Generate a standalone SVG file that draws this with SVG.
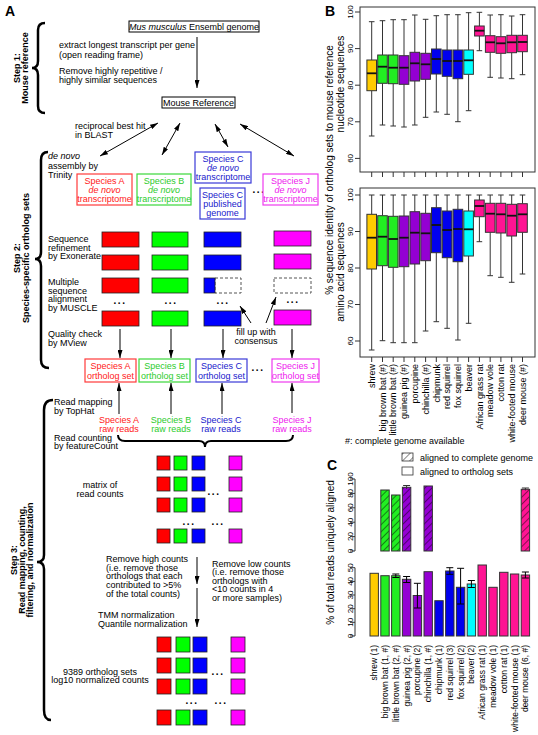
<svg xmlns="http://www.w3.org/2000/svg" width="538" height="735" viewBox="0 0 538 735">
<style>
text{font-family:"Liberation Sans",Arial,sans-serif;font-size:9px;fill:#000}
.c{text-anchor:middle}
.e{text-anchor:end}
.b{font-weight:bold}
.pl{font-size:14px;font-weight:bold}
.i{font-style:italic}
.ax{font-size:10px}
.tk{font-size:8px;text-anchor:middle}
.cl{font-size:8.5px;text-anchor:end}
.bx{fill:#fff;stroke:#000;stroke-width:1}
.sr{fill:#fff;stroke:#ff3a3a;stroke-width:1.2}
.sg{fill:#fff;stroke:#3ad83a;stroke-width:1.2}
.sb{fill:#fff;stroke:#3a3ad8;stroke-width:1.2}
.sm{fill:#fff;stroke:#ee3aee;stroke-width:1.2}
.tr{fill:#ff2020}.tg{fill:#2ccc2c}.tb{fill:#2020cc}.tm{fill:#ee20ee}
.R{fill:#ff0000;stroke:#222;stroke-width:0.8}
.G{fill:#00ff00;stroke:#222;stroke-width:0.8}
.B{fill:#0000ff;stroke:#222;stroke-width:0.8}
.M{fill:#ff00ff;stroke:#222;stroke-width:0.8}
.D{fill:#fff;stroke:#555;stroke-width:1;stroke-dasharray:3,2}
.ln{stroke:#000;stroke-width:1;fill:none}
.br{stroke:#000;stroke-width:2.5;fill:none}
.dots{font-weight:bold;font-size:10px;letter-spacing:1.5px;text-anchor:middle}
.fr{fill:none;stroke:#333;stroke-width:1}
.wh{stroke:#333;stroke-width:1;fill:none}
.med{stroke:#111;stroke-width:1.8}
.bo{stroke:#333;stroke-width:1}
.cy{fill:#ffcc00}.cg{fill:#22ee22}.cp{fill:#9400d3}.cb{fill:#0000ee}.cc{fill:#00ffff}.ck{fill:#ff1493}
.h{fill:url(#hatch)}
</style>
<defs>
<marker id="ah" viewBox="0 0 8 5" refX="8" refY="2.5" markerWidth="8" markerHeight="5" markerUnits="userSpaceOnUse" orient="auto-start-reverse"><path d="M0,0L8,2.5L0,5z" fill="#000"/></marker>
<pattern id="hatch" width="5" height="5" patternUnits="userSpaceOnUse" patternTransform="rotate(45)"><line x1="0" y1="0" x2="0" y2="5" stroke="#000" stroke-width="0.9"/></pattern>
</defs>
<rect width="538" height="735" fill="#fff"/>

<!-- Panel A -->
<text class="pl" x="5" y="15.5">A</text>

<g id="step-labels">
<text class="c b" transform="translate(19.5,68) rotate(-90)">Step 1:</text>
<text class="c b" transform="translate(28,68) rotate(-90)">Mouse reference</text>
<text class="c b" transform="translate(20,258) rotate(-90)">Step 2:</text>
<text class="c b" transform="translate(28.5,258) rotate(-90)">Species-specific ortholog sets</text>
<text class="c b" transform="translate(16.5,560) rotate(-90)">Step 3:</text>
<text class="c b" transform="translate(24.5,560) rotate(-90)">Read mapping, counting,</text>
<text class="c b" transform="translate(32.5,560) rotate(-90)">filtering, and normalization</text>
</g>

<g id="braces">
<path class="br" d="M45,23 Q38,23 38,30 L38,61 Q38,68 32,68 Q38,68 38,75 L38,106 Q38,113 45,113"/>
<path class="br" d="M48,152 Q41,152 41,160 L41,252 Q41,259 35,259 Q41,259 41,266 L41,360 Q41,368 49,368"/>
<path class="br" d="M53,400 Q44,400 44,410 L44,555 Q44,562 37,562 Q44,562 44,569 L44,710 Q44,720 51,720"/>
</g>

<g id="step1-notes">
<text x="59" y="48">extract longest transcript per gene</text>
<text x="59" y="57.5">(open reading frame)</text>
<text x="59" y="74">Remove highly repetitive /</text>
<text x="59" y="83">highly similar sequences</text>
<text x="75" y="128.5">reciprocal best hit</text>
<text x="75" y="137.5">in BLAST</text>
</g>

<g id="node-ensembl">
<rect class="bx" x="129" y="21" width="130" height="11"/>
<text class="c" x="194" y="29.8"><tspan class="i">Mus musculus</tspan> Ensembl genome</text>
</g>
<g id="node-mouse-ref">
<rect class="bx" x="162" y="97" width="73" height="11"/>
<text class="c" x="198.5" y="105.8">Mouse Reference</text>
</g>

<g id="step2-notes">
<text class="i" x="48" y="159">de novo</text>
<text x="48" y="168.5">assembly by</text>
<text x="48" y="177.5">Trinity</text>
<text x="48" y="241.5">Sequence</text>
<text x="48" y="250.5">refinement</text>
<text x="48" y="259">by Exonerate</text>
<text x="48" y="284.5">Multiple</text>
<text x="48" y="293.5">sequence</text>
<text x="48" y="302">alignment</text>
<text x="48" y="311">by MUSCLE</text>
<text x="48" y="337">Quality check</text>
<text x="48" y="345.5">by MView</text>
<text class="c" x="256" y="335">fill up with</text>
<text class="c" x="256" y="344">consensus</text>
</g>

<g id="node-A-denovo">
<rect class="sr" x="77" y="174" width="55" height="31"/>
<text class="c tr" x="104.5" y="184">Species A</text>
<text class="c tr i" x="104.5" y="193">de novo</text>
<text class="c tr" x="104.5" y="202.3">transcriptome</text>
</g>
<g id="node-B-denovo">
<rect class="sg" x="137" y="174" width="54" height="31"/>
<text class="c tg" x="164" y="184">Species B</text>
<text class="c tg i" x="164" y="193">de novo</text>
<text class="c tg" x="164" y="202.3">transcriptome</text>
</g>
<g id="node-C-denovo">
<rect class="sb" x="195" y="152" width="56" height="31"/>
<text class="c tb" x="223" y="162">Species C</text>
<text class="c tb i" x="223" y="171">de novo</text>
<text class="c tb" x="223" y="180.3">transcriptome</text>
</g>
<g id="node-C-genome">
<rect class="sb" x="200" y="188" width="45" height="31"/>
<text class="c tb" x="222.5" y="197.5">Species C</text>
<text class="c tb" x="222.5" y="206.5">published</text>
<text class="c tb" x="222.5" y="215.5">genome</text>
</g>
<text class="dots" x="259" y="193">...</text>
<g id="node-J-denovo">
<rect class="sm" x="263" y="174" width="55" height="31"/>
<text class="c tm" x="290.5" y="184">Species J</text>
<text class="c tm i" x="290.5" y="193">de novo</text>
<text class="c tm" x="290.5" y="202.3">transcriptome</text>
</g>

<g id="node-A-seqs">
<rect class="R" x="102" y="232" width="37" height="15"/>
<rect class="R" x="102" y="255" width="37" height="15"/>
<rect class="R" x="102" y="278" width="37" height="15"/>
<text class="dots" x="120" y="304">...</text>
<rect class="R" x="102" y="311" width="37" height="15"/>
</g>
<g id="node-B-seqs">
<rect class="G" x="152" y="232" width="36" height="15"/>
<rect class="G" x="152" y="255" width="36" height="15"/>
<rect class="G" x="152" y="278" width="36" height="15"/>
<text class="dots" x="171" y="304">...</text>
<rect class="G" x="152" y="311" width="36" height="15"/>
</g>
<g id="node-C-seqs">
<rect class="B" x="204" y="232" width="37" height="15"/>
<rect class="B" x="204" y="255" width="37" height="15"/>
<rect class="D" x="215" y="278" width="26" height="15"/>
<rect class="B" x="204" y="278" width="11" height="15"/>
<text class="dots" x="223" y="304">...</text>
<rect class="B" x="204" y="311" width="37" height="15"/>
</g>
<g id="node-J-seqs">
<rect class="M" x="274" y="231" width="37" height="15"/>
<rect class="M" x="274" y="254" width="37" height="15"/>
<rect class="D" x="274" y="278" width="37" height="15"/>
<text class="dots" x="293" y="303">...</text>
<rect class="M" x="274" y="310" width="37" height="15"/>
</g>

<g id="node-A-orth">
<rect class="sr" x="85" y="359" width="51" height="23"/>
<text class="c tr" x="110.5" y="369">Species A</text>
<text class="c tr" x="110.5" y="378.5">ortholog set</text>
</g>
<g id="node-B-orth">
<rect class="sg" x="139" y="359" width="51" height="23"/>
<text class="c tg" x="164.5" y="369">Species B</text>
<text class="c tg" x="164.5" y="378.5">ortholog set</text>
</g>
<g id="node-C-orth">
<rect class="sb" x="196" y="359" width="51" height="23"/>
<text class="c tb" x="221.5" y="369">Species C</text>
<text class="c tb" x="221.5" y="378.5">ortholog set</text>
</g>
<text class="dots" x="258" y="371">...</text>
<g id="node-J-orth">
<rect class="sm" x="272" y="359" width="47" height="23"/>
<text class="c tm" x="295.5" y="369">Species J</text>
<text class="c tm" x="295.5" y="378.5">ortholog set</text>
</g>

<g id="step3-notes">
<text x="54" y="405">Read mapping</text>
<text x="54" y="413.5">by TopHat</text>
<text x="54" y="440.5">Read counting</text>
<text x="54" y="449">by featureCount</text>
<text class="c" x="100" y="487.5">matrix of</text>
<text class="c" x="100" y="497">read counts</text>
<text x="106" y="562">Remove high counts</text>
<text x="106" y="570.7">(i.e. remove those</text>
<text x="106" y="579.4">orthologs that each</text>
<text x="106" y="588.1">contributed to &gt;5%</text>
<text x="106" y="596.8">of the total counts)</text>
<text x="212" y="566.5">Remove low counts</text>
<text x="212" y="575">(i.e. remove those</text>
<text x="212" y="583.5">orthologs with</text>
<text x="212" y="592">&lt;10 counts in 4</text>
<text x="212" y="600.5">or more samples)</text>
<text x="98" y="617.5">TMM normalization</text>
<text x="98" y="626.5">Quantile normalization</text>
<text class="c" x="100" y="674.5">9389 ortholog sets</text>
<text class="c" x="100" y="683">log10 normalized counts</text>
</g>

<g id="node-raw-reads">
<text class="c tr" x="119" y="423">Species A</text>
<text class="c tr" x="119" y="432">raw reads</text>
<text class="c tg" x="171" y="423">Species B</text>
<text class="c tg" x="171" y="432">raw reads</text>
<text class="c tb" x="221" y="423">Species C</text>
<text class="c tb" x="221" y="432">raw reads</text>
<text class="c tm" x="292" y="423">Species J</text>
<text class="c tm" x="292" y="432">raw reads</text>
</g>

<g id="node-count-matrix">
<rect class="R" x="157" y="456" width="13" height="14"/><rect class="G" x="174" y="456" width="13" height="14"/><rect class="B" x="192" y="456" width="13" height="14"/><rect class="M" x="229" y="456" width="13" height="14"/>
<rect class="R" x="157" y="477" width="13" height="14"/><rect class="G" x="174" y="477" width="13" height="14"/><rect class="B" x="192" y="477" width="13" height="14"/><rect class="M" x="229" y="477" width="13" height="14"/>
<text class="dots" x="214" y="494.5">...</text>
<rect class="R" x="157" y="498" width="13" height="14"/><rect class="G" x="174" y="498" width="13" height="14"/><rect class="B" x="192" y="498" width="13" height="14"/><rect class="M" x="229" y="498" width="13" height="14"/>
<text class="dots" x="189" y="524.5">...</text><text class="dots" x="218" y="524.5">...</text>
<rect class="R" x="157" y="529" width="13" height="14"/><rect class="G" x="174" y="529" width="13" height="14"/><rect class="B" x="192" y="529" width="13" height="14"/><rect class="M" x="229" y="529" width="13" height="14"/>
</g>

<g id="node-norm-matrix">
<rect class="R" x="157" y="637" width="14" height="15"/><rect class="G" x="176" y="637" width="14" height="15"/><rect class="B" x="193" y="637" width="14" height="15"/><rect class="M" x="231" y="637" width="14" height="15"/>
<rect class="R" x="157" y="658" width="14" height="15"/><rect class="G" x="176" y="658" width="14" height="15"/><rect class="B" x="193" y="658" width="14" height="15"/><rect class="M" x="231" y="658" width="14" height="15"/>
<text class="dots" x="218" y="675">...</text>
<rect class="R" x="157" y="679" width="14" height="15"/><rect class="G" x="176" y="679" width="14" height="15"/><rect class="B" x="193" y="679" width="14" height="15"/><rect class="M" x="231" y="679" width="14" height="15"/>
<text class="dots" x="192" y="704">...</text><text class="dots" x="221" y="704">...</text>
<rect class="R" x="157" y="710" width="14" height="15"/><rect class="G" x="176" y="710" width="14" height="15"/><rect class="B" x="193" y="710" width="14" height="15"/><rect class="M" x="231" y="710" width="14" height="15"/>
</g>

<g id="connectors" class="ln">
<path class="ln" d="M197,37V88" marker-end="url(#ah)"/>
<path class="ln" d="M158,123L100,156" marker-start="url(#ah)" marker-end="url(#ah)"/>
<path class="ln" d="M180,123L162,155" marker-start="url(#ah)" marker-end="url(#ah)"/>
<path class="ln" d="M215,124L228,147" marker-start="url(#ah)" marker-end="url(#ah)"/>
<path class="ln" d="M240,124L294,156" marker-start="url(#ah)" marker-end="url(#ah)"/>
<path class="ln" d="M120,329V358" marker-end="url(#ah)"/>
<path class="ln" d="M171,329V358" marker-end="url(#ah)"/>
<path class="ln" d="M223,329V358" marker-end="url(#ah)"/>
<path class="ln" d="M292,329V358" marker-end="url(#ah)"/>
<path class="ln" d="M251,323L240,306" marker-end="url(#ah)"/>
<path class="ln" d="M266,323L276,297" marker-end="url(#ah)"/>
<path class="ln" d="M119,414V383" marker-end="url(#ah)"/>
<path class="ln" d="M171,414V383" marker-end="url(#ah)"/>
<path class="ln" d="M222,414V383" marker-end="url(#ah)"/>
<path class="ln" d="M292,413V383" marker-end="url(#ah)"/>
<path d="M118,435 Q118,441 125,441 L199,441 Q205,441 205,447 Q205,441 211,441 L286,441 Q293,441 293,435" stroke="#000" stroke-width="2" fill="none"/>
<path class="ln" d="M197,557V584" marker-end="url(#ah)"/>
<path class="ln" d="M197,588V627" marker-end="url(#ah)"/>
</g>

<!-- Panel B -->
<text class="pl" x="325" y="15.5">B</text>
<text class="ax c" transform="translate(332.5,170) rotate(-90)">% sequence identity of ortholog sets to mouse reference</text>
<text class="ax c" transform="translate(344,84) rotate(-90)">nucleotide sequences</text>
<text class="ax c" transform="translate(344,272) rotate(-90)">amino acid sequences</text>

<g id="plotB-top">
<rect class="fr" x="360" y="7" width="175" height="165"/>
<path class="wh" d="M355,12H360M355,48.6H360M355,85.2H360M355,121.8H360M355,158.4H360"/>
<text class="tk" transform="translate(353,12) rotate(-90)">100</text>
<text class="tk" transform="translate(353,48.6) rotate(-90)">90</text>
<text class="tk" transform="translate(353,85.2) rotate(-90)">80</text>
<text class="tk" transform="translate(353,121.8) rotate(-90)">70</text>
<text class="tk" transform="translate(353,158.4) rotate(-90)">60</text>
<path class="wh" d="M371.7,172v5M382.5,172v5M393.2,172v5M404,172v5M414.8,172v5M425.6,172v5M436.3,172v5M447.1,172v5M457.9,172v5M468.6,172v5M479.4,172v5M490.2,172v5M500.9,172v5M511.7,172v5M522.5,172v5"/>
<g><path class="wh" d="M371.7,21.7V60M371.7,90.7V136M368.9,21.7h5.6M368.9,136h5.6"/><rect class="cy bo" x="366.9" y="60" width="9.6" height="30.7"/><path class="med" d="M366.9,73.3h9.6"/></g>
<g><path class="wh" d="M382.5,20.7V55M382.5,83.3V125M379.7,20.7h5.6M379.7,125h5.6"/><rect class="cg bo" x="377.7" y="55" width="9.6" height="28.3"/><path class="med" d="M377.7,66.7h9.6"/></g>
<g><path class="wh" d="M393.2,19.7V55M393.2,83.7V126M390.4,19.7h5.6M390.4,126h5.6"/><rect class="cg bo" x="388.4" y="55" width="9.6" height="28.7"/><path class="med" d="M388.4,67.7h9.6"/></g>
<g><path class="wh" d="M404,19.7V55.7M404,84.3V127M401.2,19.7h5.6M401.2,127h5.6"/><rect class="cp bo" x="399.2" y="55.7" width="9.6" height="28.6"/><path class="med" d="M399.2,67.7h9.6"/></g>
<g><path class="wh" d="M414.8,15V52.3M414.8,81V125M412,15h5.6M412,125h5.6"/><rect class="cp bo" x="410" y="52.3" width="9.6" height="28.7"/><path class="med" d="M410,63.3h9.6"/></g>
<g><path class="wh" d="M425.6,19.3V53.3M425.6,79.3V117.3M422.8,19.3h5.6M422.8,117.3h5.6"/><rect class="cp bo" x="420.8" y="53.3" width="9.6" height="26"/><path class="med" d="M420.8,64.3h9.6"/></g>
<g><path class="wh" d="M436.3,15.7V49M436.3,74V112M433.5,15.7h5.6M433.5,112h5.6"/><rect class="cb bo" x="431.5" y="49" width="9.6" height="25"/><path class="med" d="M431.5,59h9.6"/></g>
<g><path class="wh" d="M447.1,14.7V50M447.1,76.3V114.3M444.3,14.7h5.6M444.3,114.3h5.6"/><rect class="cb bo" x="442.3" y="50" width="9.6" height="26.3"/><path class="med" d="M442.3,61h9.6"/></g>
<g><path class="wh" d="M457.9,14.7V50M457.9,78.7V121.7M455.1,14.7h5.6M455.1,121.7h5.6"/><rect class="cb bo" x="453.1" y="50" width="9.6" height="28.7"/><path class="med" d="M453.1,61h9.6"/></g>
<g><path class="wh" d="M468.6,12.7V50M468.6,74.3V110.7M465.8,12.7h5.6M465.8,110.7h5.6"/><rect class="cc bo" x="463.8" y="50" width="9.6" height="24.3"/><path class="med" d="M463.8,60.3h9.6"/></g>
<g><path class="wh" d="M479.4,12.3V26M479.4,36V50.7M476.6,12.3h5.6M476.6,50.7h5.6"/><rect class="ck bo" x="474.6" y="26" width="9.6" height="10"/><path class="med" d="M474.6,30.7h9.6"/></g>
<g><path class="wh" d="M490.2,15V35.7M490.2,52.3V77.3M487.4,15h5.6M487.4,77.3h5.6"/><rect class="ck bo" x="485.4" y="35.7" width="9.6" height="16.6"/><path class="med" d="M485.4,42.3h9.6"/></g>
<g><path class="wh" d="M500.9,14.7V36.7M500.9,53.3V78M498.1,14.7h5.6M498.1,78h5.6"/><rect class="ck bo" x="496.1" y="36.7" width="9.6" height="16.6"/><path class="med" d="M496.1,43.3h9.6"/></g>
<g><path class="wh" d="M511.7,16V35.3M511.7,52.7V78.7M508.9,16h5.6M508.9,78.7h5.6"/><rect class="ck bo" x="506.9" y="35.3" width="9.6" height="17.4"/><path class="med" d="M506.9,42.3h9.6"/></g>
<g><path class="wh" d="M522.5,14.7V35.3M522.5,51.7V74.7M519.7,14.7h5.6M519.7,74.7h5.6"/><rect class="ck bo" x="517.7" y="35.3" width="9.6" height="16.4"/><path class="med" d="M517.7,42h9.6"/></g>
</g>

<g id="plotB-bottom">
<rect class="fr" x="360" y="188" width="175" height="169"/>
<path class="wh" d="M355,195H360M355,231.5H360M355,268H360M355,304.5H360M355,341H360"/>
<text class="tk" transform="translate(353,195) rotate(-90)">100</text>
<text class="tk" transform="translate(353,231.5) rotate(-90)">90</text>
<text class="tk" transform="translate(353,268) rotate(-90)">80</text>
<text class="tk" transform="translate(353,304.5) rotate(-90)">70</text>
<text class="tk" transform="translate(353,341) rotate(-90)">60</text>
<path class="wh" d="M371.7,357v5M382.5,357v5M393.2,357v5M404,357v5M414.8,357v5M425.6,357v5M436.3,357v5M447.1,357v5M457.9,357v5M468.6,357v5M479.4,357v5M490.2,357v5M500.9,357v5M511.7,357v5M522.5,357v5"/>
<g><path class="wh" d="M371.7,195V214.3M371.7,269V350M368.9,195h5.6M368.9,350h5.6"/><rect class="cy bo" x="366.9" y="214.3" width="9.6" height="54.7"/><path class="med" d="M366.9,237.7h9.6"/></g>
<g><path class="wh" d="M382.5,195V215.7M382.5,265.7V340.7M379.7,195h5.6M379.7,340.7h5.6"/><rect class="cg bo" x="377.7" y="215.7" width="9.6" height="50"/><path class="med" d="M377.7,236.7h9.6"/></g>
<g><path class="wh" d="M393.2,195V216.3M393.2,267.3V342.7M390.4,195h5.6M390.4,342.7h5.6"/><rect class="cg bo" x="388.4" y="216.3" width="9.6" height="51"/><path class="med" d="M388.4,239h9.6"/></g>
<g><path class="wh" d="M404,195V216M404,266.7V342.7M401.2,195h5.6M401.2,342.7h5.6"/><rect class="cp bo" x="399.2" y="216" width="9.6" height="50.7"/><path class="med" d="M399.2,237.7h9.6"/></g>
<g><path class="wh" d="M414.8,195V211.7M414.8,264V342.7M412,195h5.6M412,342.7h5.6"/><rect class="cp bo" x="410" y="211.7" width="9.6" height="52.3"/><path class="med" d="M410,232.7h9.6"/></g>
<g><path class="wh" d="M425.6,195V213.3M425.6,260.7V331M422.8,195h5.6M422.8,331h5.6"/><rect class="cp bo" x="420.8" y="213.3" width="9.6" height="47.4"/><path class="med" d="M420.8,233.3h9.6"/></g>
<g><path class="wh" d="M436.3,195V207.7M436.3,252.7V321.7M433.5,195h5.6M433.5,321.7h5.6"/><rect class="cb bo" x="431.5" y="207.7" width="9.6" height="45"/><path class="med" d="M431.5,225h9.6"/></g>
<g><path class="wh" d="M447.1,195V211M447.1,257.7V328.3M444.3,195h5.6M444.3,328.3h5.6"/><rect class="cb bo" x="442.3" y="211" width="9.6" height="46.7"/><path class="med" d="M442.3,230h9.6"/></g>
<g><path class="wh" d="M457.9,195V209.3M457.9,261.7V340M455.1,195h5.6M455.1,340h5.6"/><rect class="cb bo" x="453.1" y="209.3" width="9.6" height="52.4"/><path class="med" d="M453.1,229h9.6"/></g>
<g><path class="wh" d="M468.6,195V211M468.6,256V323.3M465.8,195h5.6M465.8,323.3h5.6"/><rect class="cc bo" x="463.8" y="211" width="9.6" height="45"/><path class="med" d="M463.8,229.3h9.6"/></g>
<g><path class="wh" d="M479.4,195V200M479.4,216.7V241.7M476.6,195h5.6M476.6,241.7h5.6"/><rect class="ck bo" x="474.6" y="200" width="9.6" height="16.7"/><path class="med" d="M474.6,206h9.6"/></g>
<g><path class="wh" d="M490.2,195V203.3M490.2,232.3V275.7M487.4,195h5.6M487.4,275.7h5.6"/><rect class="ck bo" x="485.4" y="203.3" width="9.6" height="29"/><path class="med" d="M485.4,213.7h9.6"/></g>
<g><path class="wh" d="M500.9,195V203.3M500.9,233V277.3M498.1,195h5.6M498.1,277.3h5.6"/><rect class="ck bo" x="496.1" y="203.3" width="9.6" height="29.7"/><path class="med" d="M496.1,214.3h9.6"/></g>
<g><path class="wh" d="M511.7,195V204.3M511.7,236V282.3M508.9,195h5.6M508.9,282.3h5.6"/><rect class="ck bo" x="506.9" y="204.3" width="9.6" height="31.7"/><path class="med" d="M506.9,215.7h9.6"/></g>
<g><path class="wh" d="M522.5,195V203.7M522.5,232.3V274M519.7,195h5.6M519.7,274h5.6"/><rect class="ck bo" x="517.7" y="203.7" width="9.6" height="28.6"/><path class="med" d="M517.7,214.3h9.6"/></g>
</g>

<g id="plotB-labels">
<text class="e" transform="translate(374.9,364) rotate(-90)">shrew</text>
<text class="e" transform="translate(385.7,364) rotate(-90)">big brown bat (#)</text>
<text class="e" transform="translate(396.4,364) rotate(-90)">little brown bat (#)</text>
<text class="e" transform="translate(407.2,364) rotate(-90)">guinea pig (#)</text>
<text class="e" transform="translate(418,364) rotate(-90)">porcupine</text>
<text class="e" transform="translate(428.8,364) rotate(-90)">chinchilla (#)</text>
<text class="e" transform="translate(439.5,364) rotate(-90)">chipmunk</text>
<text class="e" transform="translate(450.3,364) rotate(-90)">red squirrel</text>
<text class="e" transform="translate(461.1,364) rotate(-90)">fox squirrel</text>
<text class="e" transform="translate(471.8,364) rotate(-90)">beaver</text>
<text class="e" transform="translate(482.6,364) rotate(-90)">African grass rat</text>
<text class="e" transform="translate(493.4,364) rotate(-90)">meadow vole</text>
<text class="e" transform="translate(504.1,364) rotate(-90)">cotton rat</text>
<text class="e" transform="translate(514.9,364) rotate(-90)">white-footed mouse</text>
<text class="e" transform="translate(525.7,364) rotate(-90)">deer mouse (#)</text>
<text x="345" y="444">#: complete genome available</text>
</g>

<!-- Panel C -->
<text class="pl" x="327" y="470">C</text>
<g id="legendC">
<rect x="402" y="453" width="11" height="8" fill="#fff"/>
<rect class="h" x="402" y="453" width="11" height="8"/>
<rect x="402" y="453" width="11" height="8" fill="none" stroke="#333" stroke-width="0.8"/>
<text x="420" y="461">aligned to complete genome</text>
<rect x="402" y="467" width="11" height="8" fill="#fff" stroke="#333" stroke-width="0.8"/>
<text x="420" y="474.5">aligned to ortholog sets</text>
</g>
<text class="ax c" transform="translate(334,552.5) rotate(-90)">% of total reads uniquely aligned</text>

<g id="plotC-top">
<path class="wh" d="M355,551V479M350,551H355M350,536.6H355M350,522.2H355M350,507.8H355M350,493.4H355M350,479H355"/>
<text class="tk" transform="translate(352.5,551) rotate(-90)">0</text>
<text class="tk" transform="translate(352.5,536.6) rotate(-90)">20</text>
<text class="tk" transform="translate(352.5,522.2) rotate(-90)">40</text>
<text class="tk" transform="translate(352.5,507.8) rotate(-90)">60</text>
<text class="tk" transform="translate(352.5,493.4) rotate(-90)">80</text>
<text class="tk" transform="translate(352.5,479) rotate(-90)">100</text>
<g><rect class="cg" x="380.8" y="490" width="8.4" height="61"/><rect class="h bo" x="380.8" y="490" width="8.4" height="61"/></g>
<g><rect class="cg" x="391.6" y="495" width="8.4" height="56"/><rect class="h bo" x="391.6" y="495" width="8.4" height="56"/></g>
<g><rect class="cp" x="402.4" y="487.3" width="8.4" height="63.7"/><rect class="h bo" x="402.4" y="487.3" width="8.4" height="63.7"/><path class="wh" d="M406.6,485.5V489M403.1,485.5h7"/></g>
<g><rect class="cp" x="424" y="486" width="8.4" height="65"/><rect class="h bo" x="424" y="486" width="8.4" height="65"/></g>
<g><rect class="ck" x="521.2" y="489.3" width="8.4" height="61.7"/><rect class="h bo" x="521.2" y="489.3" width="8.4" height="61.7"/><path class="wh" d="M525.4,488V490.5M521.9,488h7"/></g>
</g>

<g id="plotC-bottom">
<path class="wh" d="M355,636V567.7M350,636H355M350,622.3H355M350,608.7H355M350,595H355M350,581.4H355M350,567.7H355"/>
<text class="tk" transform="translate(352.5,636) rotate(-90)">0</text>
<text class="tk" transform="translate(352.5,622.3) rotate(-90)">10</text>
<text class="tk" transform="translate(352.5,608.7) rotate(-90)">20</text>
<text class="tk" transform="translate(352.5,595) rotate(-90)">30</text>
<text class="tk" transform="translate(352.5,581.4) rotate(-90)">40</text>
<text class="tk" transform="translate(352.5,567.7) rotate(-90)">50</text>
<rect class="cy bo" x="370" y="573.3" width="8.4" height="62.7"/>
<rect class="cg bo" x="380.8" y="575.7" width="8.4" height="60.3"/>
<rect class="cg bo" x="391.6" y="575.7" width="8.4" height="60.3"/>
<rect class="cp bo" x="402.4" y="579.3" width="8.4" height="56.7"/>
<rect class="cp bo" x="413.2" y="595.5" width="8.4" height="40.5"/>
<rect class="cp bo" x="424" y="571.7" width="8.4" height="64.3"/>
<rect class="cb bo" x="434.8" y="600.7" width="8.4" height="35.3"/>
<rect class="cb bo" x="445.6" y="571" width="8.4" height="65"/>
<rect class="cb bo" x="456.4" y="587.3" width="8.4" height="48.7"/>
<rect class="cc bo" x="467.2" y="584" width="8.4" height="52"/>
<rect class="ck bo" x="478" y="565" width="8.4" height="71"/>
<rect class="ck bo" x="488.8" y="587.3" width="8.4" height="48.7"/>
<rect class="ck bo" x="499.6" y="572.3" width="8.4" height="63.7"/>
<rect class="ck bo" x="510.4" y="574" width="8.4" height="62"/>
<rect class="ck bo" x="521.2" y="575" width="8.4" height="61"/>
<path stroke="#000" stroke-width="1" fill="none" d="M395.8,574V577.5M392.3,574h7M392.3,577.5h7M406.6,576.5V582.5M403.1,576.5h7M403.1,582.5h7M417.4,583.3V608M413.9,583.3h7M413.9,608h7M449.8,567.7V574.3M446.3,567.7h7M446.3,574.3h7M460.6,568.3V604M457.1,568.3h7M457.1,604h7M471.4,580.5V587.5M467.9,580.5h7M467.9,587.5h7M525.4,572V578M521.9,572h7M521.9,578h7"/>
</g>

<g id="plotC-labels">
<text class="cl" transform="translate(377.2,645) rotate(-90)">shrew (1)</text>
<text class="cl" transform="translate(388,645) rotate(-90)">big brown bat (1, #)</text>
<text class="cl" transform="translate(398.8,645) rotate(-90)">little brown bat (2, #)</text>
<text class="cl" transform="translate(409.6,645) rotate(-90)">guinea pig (2, #)</text>
<text class="cl" transform="translate(420.4,645) rotate(-90)">porcupine (2)</text>
<text class="cl" transform="translate(431.2,645) rotate(-90)">chinchilla (1, #)</text>
<text class="cl" transform="translate(442,645) rotate(-90)">chipmunk (1)</text>
<text class="cl" transform="translate(452.8,645) rotate(-90)">red squirrel (3)</text>
<text class="cl" transform="translate(463.6,645) rotate(-90)">fox squirrel (2)</text>
<text class="cl" transform="translate(474.4,645) rotate(-90)">beaver (2)</text>
<text class="cl" transform="translate(485.2,645) rotate(-90)">African grass rat (1)</text>
<text class="cl" transform="translate(496,645) rotate(-90)">meadow vole (1)</text>
<text class="cl" transform="translate(506.8,645) rotate(-90)">cotton rat (1)</text>
<text class="cl" transform="translate(517.6,645) rotate(-90)">white-footed mouse (1)</text>
<text class="cl" transform="translate(528.4,645) rotate(-90)">deer mouse (6, #)</text>
</g>
</svg>
